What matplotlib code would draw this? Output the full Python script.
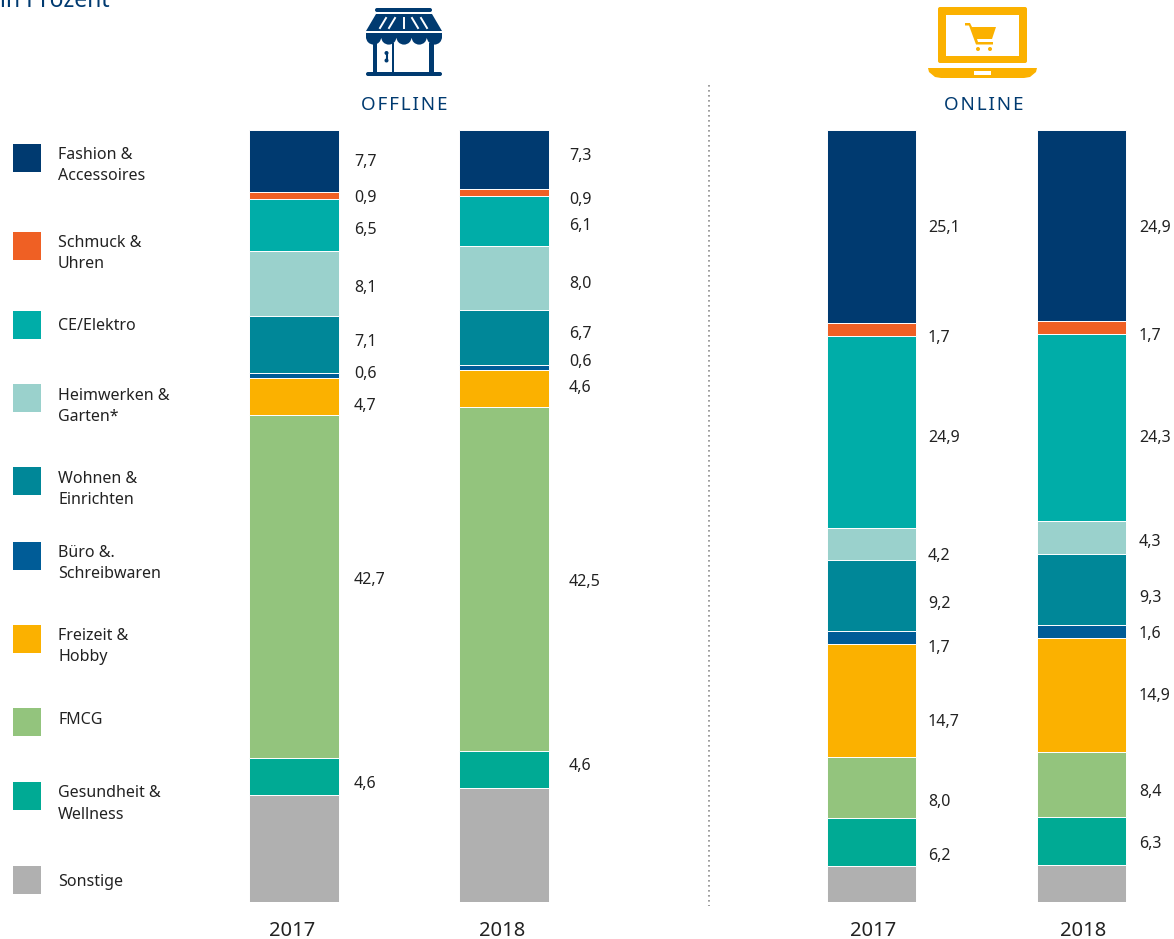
"""Handelsanteile offline / online nach Warengruppe, 2017 und 2018"""
import matplotlib
matplotlib.use('Agg')
import matplotlib.pyplot as plt
import matplotlib.patches as mpatches
import numpy as np

plt.rcParams['font.family'] = ['Noto Sans', 'DejaVu Sans']

# Data
categories = ['Fashion &\nAccessoires', 'Schmuck &\nUhren', 'CE/Elektro', 'Heimwerken &\nGarten*',
              'Wohnen &\nEinrichten', 'Büro &.\nSchreibwaren', 'Freizeit &\nHobby', 'FMCG',
              'Gesundheit &\nWellness', 'Sonstige']
years = ['2017', '2018']
offline_2017 = [7.7, 0.9, 6.5, 8.1, 7.1, 0.6, 4.7, 42.7, 4.6, 13.4]
offline_2018 = [7.3, 0.9, 6.1, 8.0, 6.7, 0.6, 4.6, 42.5, 4.6, 14.1]
online_2017 = [25.1, 1.7, 24.9, 4.2, 9.2, 1.7, 14.7, 8.0, 6.2, 4.7]
online_2018 = [24.9, 1.7, 24.3, 4.3, 9.3, 1.6, 14.9, 8.4, 6.3, 4.8]

colors = ['#003A70', '#EF6024', '#00ADA8', '#9AD1CC', '#008798',
          '#005C97', '#FBB100', '#93C47D', '#00AA94', '#B0B0B0']
NAVY = '#003A70'
YELLOW = '#FBB100'
TEXT = '#222222'

W, H = 1174, 939
fig = plt.figure(figsize=(W / 100, H / 100), dpi=100, facecolor='white')


def add_px_axes(x0, x1, y0, y1):
    return fig.add_axes([x0 / W, 1 - y1 / H, (x1 - x0) / W, (y1 - y0) / H])


def stacked(ax, series):
    for i, vals in enumerate(series):
        vals = np.array(vals)
        shares = vals / vals.sum()
        bottom = np.concatenate([[0], np.cumsum(shares)[:-1]])
        ax.bar(i, shares, bottom=bottom, width=0.424, color=colors, edgecolor='white', linewidth=0.7)
    ax.set_ylim(1, 0)
    ax.set_xticks([])
    ax.set_yticks([])
    for s in ax.spines.values():
        s.set_visible(False)


# bars: 0 and 1 sit 210 px apart
ax_off = add_px_axes(189, 609, 130, 902)
ax_off.set_xlim(-0.5, 1.5)
stacked(ax_off, [offline_2017, offline_2018])
ax_on = add_px_axes(766.5, 1174, 130, 902)
ax_on.set_xlim(-0.5, 1.44)
stacked(ax_on, [online_2017, online_2018])

# overlay in pixel coordinates for legend, labels and icons
ov = fig.add_axes([0, 0, 1, 1], facecolor='none')
ov.set_xlim(0, W)
ov.set_ylim(H, 0)
ov.axis('off')

# year labels sit a little off the bar centres
for x, year in zip([292, 502, 873, 1083], years * 2):
    ov.text(x, 936, year, fontsize=14.5, color=TEXT, va='baseline', ha='center')

# value labels are placed by hand in the original
label_y = {354: [161, 197, 228, 286, 341, 372, 405, 578, 782],
           569: [155, 198, 225, 282, 333, 361, 386, 580, 765],
           928: [226, 336, 437, 555, 602, 646, 720, 800, 855],
           1139: [226, 334, 437, 541, 597, 632, 695, 790, 842]}
for (x, ys), vals in zip(label_y.items(), [offline_2017, offline_2018, online_2017, online_2018]):
    for y, v in zip(ys, vals):
        ov.text(x, y + 1.5, f'{v:.1f}'.replace('.', ','), fontsize=11.5, color=TEXT, va='center', ha='left')

# legend
swatch_y = [158, 246, 325, 398, 481, 556, 639, 722, 796, 880]
text_y = [165.5, 253.5, 325.5, 406.5, 489.5, 563.5, 646.5, 719.5, 804, 882.5]
for cat, col, sy, ty in zip(categories, colors, swatch_y, text_y):
    ov.add_patch(mpatches.Rectangle((13, sy - 14), 28, 28, facecolor=col, edgecolor='none'))
    ov.text(58, ty, cat, fontsize=11.5, color=TEXT, va='center', ha='left', linespacing=1.42)

# headers
ov.text(0, 7, 'in Prozent', fontsize=16.5, color=NAVY, va='baseline', ha='left')
ov.text(404, 110, '\u200a'.join('OFFLINE'), fontsize=13.5, color=NAVY, va='baseline', ha='center')
ov.text(984, 110, '\u200a'.join('ONLINE'), fontsize=13.5, color=NAVY, va='baseline', ha='center')

# divider
ov.plot([709, 709], [85, 906], color='#8C8C8C', linewidth=1.2, linestyle=(0, (1, 2)))


def rrect(x0, y0, x1, y1, r, color):
    ov.add_patch(mpatches.FancyBboxPatch((x0 + r, y0 + r), x1 - x0 - 2 * r, y1 - y0 - 2 * r,
                                         boxstyle=f'round,pad={r}', facecolor=color, edgecolor='none'))


# shop icon
rrect(375, 8, 432, 12, 2, NAVY)
ov.add_patch(mpatches.Polygon([(376, 14), (432, 14), (442, 31), (366, 31)], facecolor=NAVY, edgecolor='none'))
for xt, xb in [(386, 380), (395, 389), (403.5, 403.5), (412, 418), (421, 427)]:
    ov.plot([xt, xb], [18, 28], color='white', linewidth=1.4)
ov.add_patch(mpatches.Rectangle((366, 33), 76, 5, facecolor=NAVY, edgecolor='none'))
for cx in [373.6, 388.8, 404, 419.2, 434.4]:
    ov.add_patch(mpatches.Wedge((cx, 37), 7.6, 0, 180, facecolor=NAVY, edgecolor='none'))
for x0, x1 in [(373, 377), (392, 394), (429, 434)]:
    ov.add_patch(mpatches.Rectangle((x0, 43), x1 - x0, 30, facecolor=NAVY, edgecolor='none'))
rrect(366, 72, 442, 76, 2, NAVY)
ov.add_patch(mpatches.Circle((386.5, 53), 2, facecolor=NAVY, edgecolor='none'))
ov.add_patch(mpatches.Circle((386.5, 60.5), 2, facecolor=NAVY, edgecolor='none'))
ov.plot([386.5, 386.5], [53, 60], color=NAVY, linewidth=1.5)

# laptop icon
rrect(938, 7, 1027, 63, 2, YELLOW)
ov.add_patch(mpatches.Rectangle((946, 15), 73, 41, facecolor='white', edgecolor='none'))
ov.add_patch(mpatches.Polygon([(928, 68), (1037, 68), (1036, 72), (1030, 77), (1024, 78), (941, 78), (935, 77), (929, 72)],
                              facecolor=YELLOW, edgecolor='none'))
ov.add_patch(mpatches.Rectangle((974, 71), 17, 4, facecolor='white', edgecolor='none'))
ov.add_patch(mpatches.Polygon([(965, 23), (970, 23), (972, 27), (996, 27), (992, 39), (977, 39), (978, 42), (993, 42),
                               (993, 44.5), (976, 44.5), (969, 25.5), (965, 25.5)],
                              facecolor=YELLOW, edgecolor='none'))
ov.add_patch(mpatches.Circle((978, 49), 2, facecolor=YELLOW, edgecolor='none'))
ov.add_patch(mpatches.Circle((990, 49), 2, facecolor=YELLOW, edgecolor='none'))

fig.savefig('out.png', dpi=100, facecolor='white')
plt.close(fig)
